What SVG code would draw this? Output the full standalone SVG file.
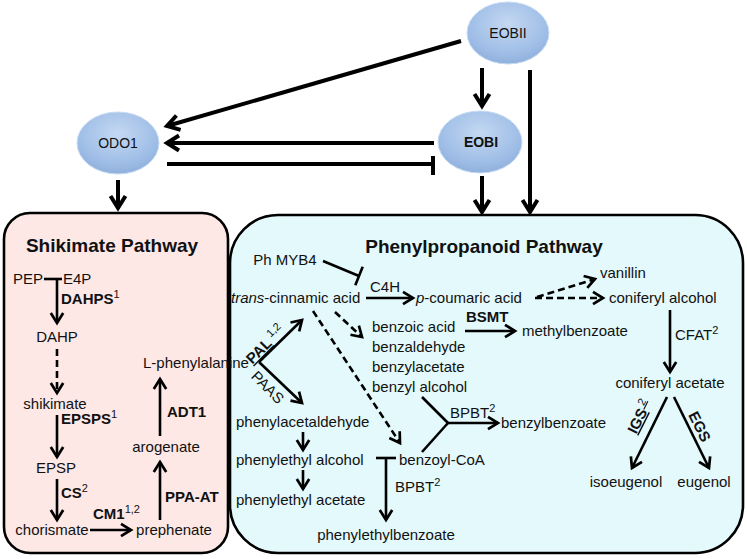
<svg xmlns="http://www.w3.org/2000/svg" width="747" height="559" viewBox="0 0 747 559">
<style>
text{font-family:"Liberation Sans",Arial,sans-serif;font-size:15px;fill:#111}
.b{font-weight:bold}
.t{font-size:19px;font-weight:bold}
.sup{font-size:11px}
.n{font-size:14px}
.ln{stroke:#000;stroke-width:2.6;fill:none}
.dl{stroke:#000;stroke-width:2.6;fill:none;stroke-dasharray:7 4}
.rg{stroke:#000;stroke-width:4;fill:none}
.m{marker-end:url(#ah)}
.mb{marker-end:url(#ahb)}
</style>
<defs>
<marker id="ah" viewBox="0 0 16 16" refX="12" refY="8" markerWidth="16" markerHeight="16" markerUnits="userSpaceOnUse" orient="auto"><path d="M2,1.8 L12,8 L2,14.2" fill="none" stroke="#000" stroke-width="2.7"/></marker>
<marker id="ahb" viewBox="0 0 20 20" refX="16" refY="10" markerWidth="20" markerHeight="20" markerUnits="userSpaceOnUse" orient="auto"><path d="M4,2.5 L16,10 L4,17.5" fill="none" stroke="#000" stroke-width="4"/></marker>
<radialGradient id="eg" cx="50%" cy="35%" r="65%">
<stop offset="0" stop-color="#c4d8f2"/>
<stop offset="0.75" stop-color="#9ebde6"/>
<stop offset="1" stop-color="#8fb0dc"/>
</radialGradient>
</defs>

<g id="shikimate-box"><rect x="4" y="213" width="224" height="340" rx="26" fill="#fde8e6" stroke="#000" stroke-width="2.6"/></g>
<g id="phenyl-box"><rect x="230" y="215" width="513" height="338" rx="48" fill="#e3f9fb" stroke="#000" stroke-width="2.6"/></g>

<g id="EOBII"><ellipse cx="508" cy="33" rx="41" ry="31" fill="url(#eg)" stroke="#c9dcf3" stroke-width="1"/><text x="508" y="38" text-anchor="middle" class="n">EOBII</text></g>
<g id="EOBI"><ellipse cx="480" cy="142" rx="42" ry="31" fill="url(#eg)" stroke="#c9dcf3" stroke-width="1"/><text x="481" y="147" text-anchor="middle" class="n b">EOBI</text></g>
<g id="ODO1"><ellipse cx="118" cy="143" rx="41" ry="31" fill="url(#eg)" stroke="#c9dcf3" stroke-width="1"/><text x="118" y="148" text-anchor="middle" class="n">ODO1</text></g>

<g id="connectors">
<line class="rg mb" x1="461" y1="41" x2="167" y2="126"/>
<line class="rg mb" x1="434" y1="143" x2="167" y2="143"/>
<line class="rg" x1="167" y1="164" x2="433" y2="164"/>
<line class="rg" x1="433" y1="156" x2="433" y2="175"/>
<line class="rg mb" x1="482" y1="68" x2="482" y2="106"/>
<line class="rg mb" x1="530" y1="70" x2="530" y2="212"/>
<line class="rg mb" x1="482" y1="176" x2="482" y2="212"/>
<line class="rg mb" x1="118" y1="180" x2="118" y2="208"/>

<!-- shikimate -->
<line class="ln" x1="44" y1="279" x2="62" y2="279"/>
<line class="ln m" x1="57" y1="279" x2="57" y2="323"/>
<line class="dl m" x1="57" y1="349" x2="57" y2="393"/>
<line class="ln m" x1="57" y1="415" x2="57" y2="457"/>
<line class="ln m" x1="57" y1="479" x2="57" y2="520"/>
<line class="ln m" x1="90" y1="530" x2="131" y2="530"/>
<line class="ln m" x1="160" y1="520" x2="160" y2="462"/>
<line class="ln m" x1="160" y1="436" x2="160" y2="379"/>

<!-- phenylpropanoid -->
<line class="ln" x1="323" y1="261" x2="359" y2="276"/>
<line class="ln" x1="362.7" y1="266.7" x2="355.3" y2="285.3"/>
<line class="ln m" x1="366" y1="298" x2="413" y2="298"/>
<line class="dl m" x1="535" y1="298" x2="603" y2="298"/>
<line class="dl m" x1="537" y1="297" x2="595" y2="279"/>
<line class="ln m" x1="670" y1="310" x2="670" y2="372"/>
<line class="ln m" x1="667" y1="397" x2="632" y2="468"/>
<line class="ln m" x1="674" y1="397" x2="709" y2="468"/>
<line class="ln m" x1="465" y1="331" x2="515" y2="331"/>
<line class="dl m" x1="335" y1="312" x2="362" y2="337"/>
<line class="dl m" x1="313" y1="311" x2="400" y2="443"/>
<line class="ln" x1="422" y1="397" x2="448" y2="423"/>
<line class="ln" x1="422" y1="452" x2="448" y2="423"/>
<line class="ln m" x1="447" y1="423" x2="498" y2="423"/>
<line class="ln m" x1="259" y1="362" x2="302" y2="320"/>
<line class="ln m" x1="259" y1="362" x2="302" y2="403"/>
<line class="ln m" x1="303" y1="432" x2="303" y2="450"/>
<line class="ln m" x1="303" y1="470" x2="303" y2="489"/>
<line class="ln" x1="376" y1="458" x2="396" y2="458"/>
<line class="ln m" x1="386" y1="458" x2="386" y2="520"/>
</g>

<g id="shikimate-labels">
<text x="112" y="252" text-anchor="middle" class="t">Shikimate Pathway</text>
<text x="43" y="284" text-anchor="end">PEP</text>
<text x="63" y="284">E4P</text>
<text x="61" y="304" class="b">DAHPS<tspan class="sup" dy="-6" font-weight="normal">1</tspan></text>
<text x="57" y="342" text-anchor="middle">DAHP</text>
<text x="55" y="409" text-anchor="middle">shikimate</text>
<text x="61" y="424" class="b">EPSPS<tspan class="sup" dy="-6" font-weight="normal">1</tspan></text>
<text x="56" y="473" text-anchor="middle">EPSP</text>
<text x="61" y="498" class="b">CS<tspan class="sup" dy="-6" font-weight="normal">2</tspan></text>
<text x="52" y="535" text-anchor="middle">chorismate</text>
<text x="93" y="519" class="b">CM1<tspan class="sup" dy="-6" font-weight="normal">1,2</tspan></text>
<text x="174" y="535" text-anchor="middle">prephenate</text>
<text x="165" y="502" class="b">PPA-AT</text>
<text x="166" y="452" text-anchor="middle">arogenate</text>
<text x="167" y="417" class="b">ADT1</text>
<text x="196" y="368" text-anchor="middle">L-phenylalanine</text>
</g>

<g id="phenyl-labels">
<text x="484" y="253" text-anchor="middle" class="t">Phenylpropanoid Pathway</text>
<text x="285" y="265" text-anchor="middle">Ph MYB4</text>
<text x="231" y="303"><tspan font-style="italic">trans</tspan>-cinnamic acid</text>
<text x="370" y="292">C4H</text>
<text x="416" y="303"><tspan font-style="italic">p</tspan>-coumaric acid</text>
<text x="600" y="278">vanillin</text>
<text x="609" y="303">coniferyl alcohol</text>
<text x="675" y="340">CFAT<tspan class="sup" dy="-6">2</tspan></text>
<text x="670" y="388" text-anchor="middle">coniferyl acetate</text>
<text x="626" y="487" text-anchor="middle">isoeugenol</text>
<text x="704" y="487" text-anchor="middle">eugenol</text>
<text transform="translate(644,419) rotate(-63.4)" text-anchor="middle" class="b" text-decoration="underline">IGS<tspan class="sup" dy="-6" font-weight="normal" text-decoration="none"> 2</tspan></text>
<text transform="translate(695,429) rotate(63.4)" text-anchor="middle" class="b">EGS</text>
<text x="466" y="322" class="b">BSMT</text>
<text x="372" y="332">benzoic acid</text>
<text x="372" y="352">benzaldehyde</text>
<text x="372" y="372">benzylacetate</text>
<text x="372" y="392">benzyl alcohol</text>
<text x="522" y="336">methylbenzoate</text>
<text x="450" y="418">BPBT<tspan class="sup" dy="-6">2</tspan></text>
<text x="501" y="428">benzylbenzoate</text>
<text transform="translate(269,348) rotate(-45)" text-anchor="middle"><tspan class="b" text-decoration="underline">PAL</tspan><tspan class="sup" dy="-6"> 1,2</tspan></text>
<text transform="translate(264,391) rotate(45)" text-anchor="middle">PAAS</text>
<text x="236" y="427">phenylacetaldehyde</text>
<text x="236" y="465">phenylethyl alcohol</text>
<text x="236" y="505">phenylethyl acetate</text>
<text x="399" y="465">benzoyl-CoA</text>
<text x="395" y="492">BPBT<tspan class="sup" dy="-6">2</tspan></text>
<text x="386" y="540" text-anchor="middle">phenylethylbenzoate</text>
</g>
</svg>
